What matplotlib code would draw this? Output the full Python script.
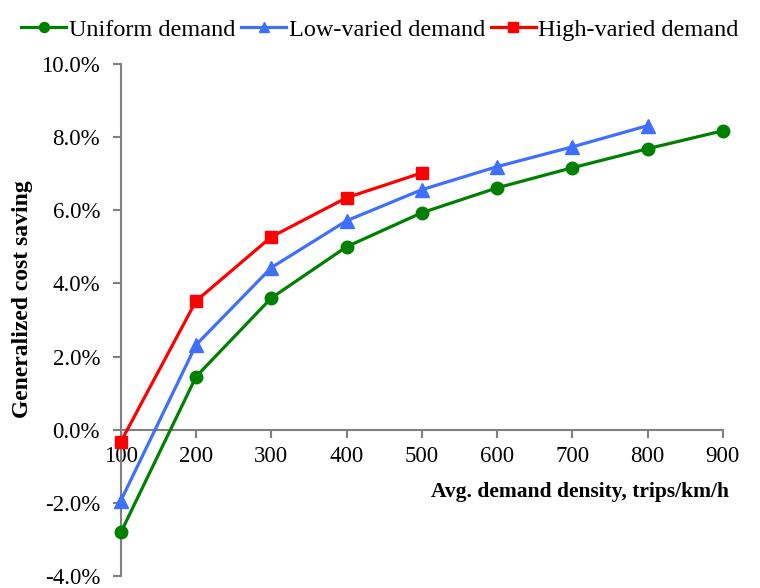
import numpy as np
import matplotlib.pyplot as plt
from matplotlib.ticker import FuncFormatter

plt.rcParams['font.family'] = ['Liberation Serif', 'DejaVu Serif']

density = [100, 200, 300, 400, 500, 600, 700, 800, 900]
uniform = [-2.81, 1.45, 3.60, 5.00, 5.93, 6.61, 7.16, 7.68, 8.17]
low_varied = [-1.94, 2.32, 4.43, 5.71, 6.56, 7.19, 7.73, 8.31]
high_varied = [-0.33, 3.52, 5.27, 6.34, 7.02]

fig = plt.figure(figsize=(7.6, 5.88), dpi=100)
ax = fig.add_axes([0.159, 0.0204, 0.792, 0.871])

ax.plot(density, uniform, color='#008000', marker='o', markersize=9, linewidth=2.3,
        label='Uniform demand', clip_on=False, zorder=3)
ax.plot(density[:len(low_varied)], low_varied, color='#3f6fff', marker='^', markersize=9.5,
        linewidth=2.3, label='Low-varied demand', clip_on=False, zorder=4)
ax.plot(density[:len(high_varied)], high_varied, color='#ff0000', marker='s', markersize=8.5,
        linewidth=2.3, label='High-varied demand', clip_on=False, zorder=5)

ax.set_xlim(100, 900)
ax.set_ylim(-4, 10)
ax.set_xticks(density)
ax.set_yticks(np.arange(-4, 10.1, 2))
ax.yaxis.set_major_formatter(FuncFormatter(lambda v, p: '%.1f%%' % v))

ax.spines['top'].set_visible(False)
ax.spines['right'].set_visible(False)
ax.spines['bottom'].set_position(('data', 0))
for s in ['left', 'bottom']:
    ax.spines[s].set_color('#808080')
    ax.spines[s].set_linewidth(1.5)
ax.tick_params(colors='#808080', labelcolor='black', labelsize=16.5, width=1.5, length=6)
ax.tick_params(axis='x', pad=6)
ax.tick_params(axis='y', pad=9)

ax.text(1.01, 0.164, 'Avg. demand density, trips/km/h', transform=ax.transAxes,
        ha='right', va='center', fontsize=15.5, fontweight='bold')
fig.text(0.029, 0.492, 'Generalized cost saving', rotation=90, ha='center', va='center',
         fontsize=17, fontweight='bold')

fig.legend(loc='upper center', bbox_to_anchor=(0.5, 1.005), ncol=3, frameon=False,
           fontsize=17.5, handlelength=1.85, handletextpad=0.1, columnspacing=0.25,
           markerscale=0.8)

fig.savefig('out.png', dpi=100)
